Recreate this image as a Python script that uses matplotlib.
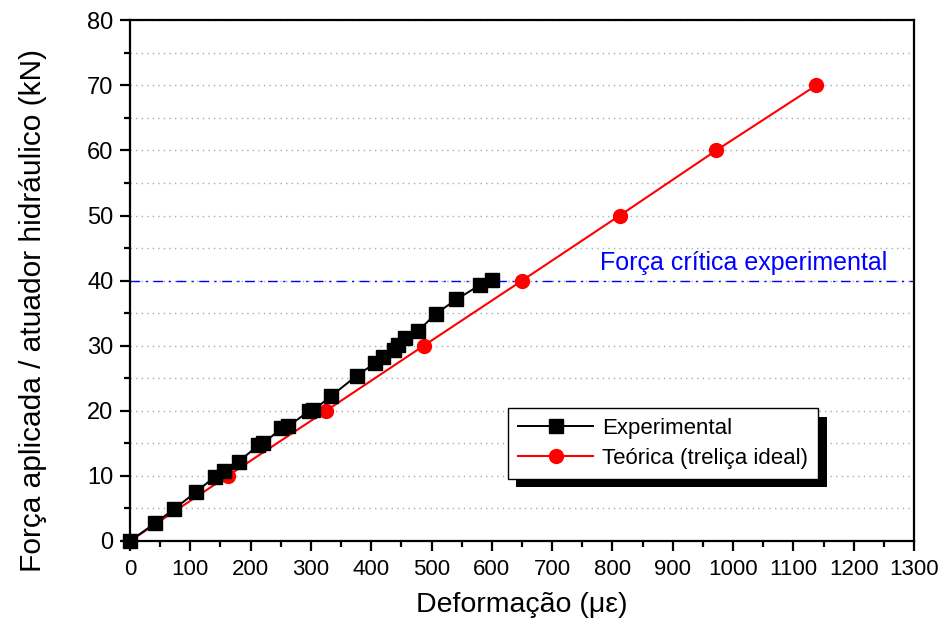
# Força x deformação: experimental vs teórica (treliça ideal)

import matplotlib
matplotlib.use('Agg')
import matplotlib.pyplot as plt
import matplotlib.patheffects as pe
from matplotlib.ticker import MultipleLocator

plt.rcParams['font.family'] = ['Liberation Sans', 'DejaVu Sans']

# experimental
def_exp = [0, 41, 73, 109, 141, 156, 180, 213, 221, 251, 262, 296, 304, 334,
           376, 406, 420, 437, 445, 456, 478, 507, 541, 580, 601]
forca_exp = [0, 2.7, 4.9, 7.5, 9.9, 10.8, 12.2, 14.7, 15.0, 17.3, 17.6, 19.9,
             20.1, 22.3, 25.4, 27.3, 28.2, 29.3, 30.1, 31.2, 32.3, 34.9, 37.1,
             39.3, 40.1]

# teorica
def_teo = [0, 162, 325, 487, 650, 812, 972, 1138]
forca_teo = [0, 10, 20, 30, 40, 50, 60, 70]

forca_critica = 40

fig = plt.figure(figsize=(9.45, 6.32), dpi=100)
ax = fig.add_axes([0.1376, 0.144, 0.8296, 0.824])

ax.plot(def_exp, forca_exp, color='black', linewidth=1.4, marker='s',
        markersize=9.5, label='Experimental', clip_on=False, zorder=4)
ax.plot(def_teo, forca_teo, color='red', linewidth=1.5, marker='o',
        markersize=10, label='Teórica (treliça ideal)', clip_on=False,
        zorder=3)

ax.axhline(forca_critica, color='blue', linewidth=1, linestyle=(0, (7, 4, 1.5, 4)),
           zorder=2)
ax.text(780, forca_critica + 0.8, 'Força crítica experimental', color='blue',
        fontsize=18, va='bottom', ha='left')

ax.set_xlim(0, 1300)
ax.set_ylim(0, 80)
ax.xaxis.set_major_locator(MultipleLocator(100))
ax.xaxis.set_minor_locator(MultipleLocator(50))
ax.yaxis.set_major_locator(MultipleLocator(10))
ax.yaxis.set_minor_locator(MultipleLocator(5))

ax.grid(True, axis='y', which='both', linestyle=(0, (1, 3)), color='#aaaaaa',
        linewidth=1)
ax.set_axisbelow(True)

for s in ax.spines.values():
    s.set_linewidth(1.6)
ax.tick_params(axis='both', which='major', direction='out', length=7,
               width=1.6)
ax.tick_params(axis='both', which='minor', direction='out', length=4,
               width=1.6)
ax.tick_params(axis='y', labelsize=17, pad=5)
ax.tick_params(axis='x', labelsize=16, pad=6)

ax.set_xlabel('Deformação (με)', fontsize=20.5)
ax.set_ylabel('Força aplicada / atuador hidráulico (kN)', fontsize=21.5)
ax.xaxis.set_label_coords(0.5, -0.098)
ax.yaxis.set_label_coords(-0.106, 0.443)

leg = ax.legend(loc='upper left', bbox_to_anchor=(0.482, 0.255), fontsize=16,
                fancybox=False, edgecolor='black', framealpha=1,
                handlelength=3.4, borderpad=0.45, labelspacing=0.4,
                handletextpad=0.4, borderaxespad=0)
leg.get_frame().set_linewidth(1)
leg.get_frame().set_path_effects([
    pe.SimplePatchShadow(offset=(6, -6), shadow_rgbFace='black', alpha=1),
    pe.Normal()])

fig.savefig('out.png', dpi=100)
